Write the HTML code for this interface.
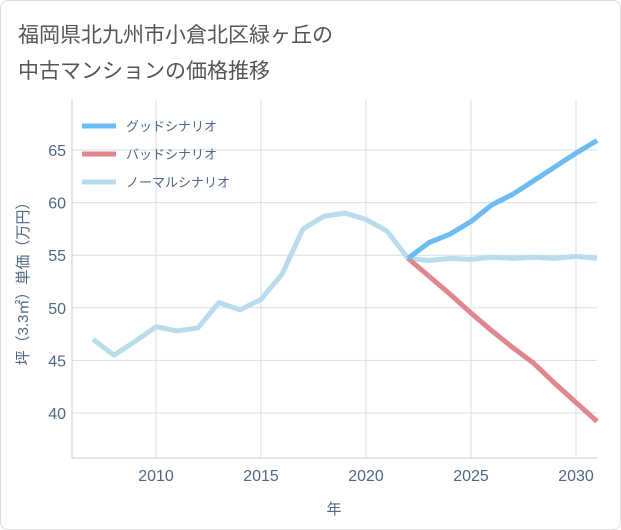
<!DOCTYPE html>
<html><head><meta charset="utf-8"><style>
body{margin:0;background:#fff;font-family:"Liberation Sans","Noto Sans CJK JP",sans-serif}
#wrap{position:relative;width:619px;height:528px;border:1px solid #ddd;border-radius:8px;overflow:hidden;background:#fff}
</style></head><body>
<div id="wrap">
<svg id="chart" width="621" height="530" style="position:absolute;left:-1px;top:-1px">
<text x="18" y="42" font-size="21" fill="#555" font-family="Liberation Sans,Noto Sans CJK JP,sans-serif">福岡県北九州市小倉北区緑ヶ丘の</text>
<text x="18" y="78" font-size="21" fill="#555" font-family="Liberation Sans,Noto Sans CJK JP,sans-serif">中古マンションの価格推移</text>
<g id="grid"></g><g id="series"></g><g id="axes"></g>
<text x="28" y="280" font-size="15" fill="#506784" transform="rotate(-90 28 280)" text-anchor="middle" font-family="Liberation Sans,Noto Sans CJK JP,sans-serif">坪（3.3㎡）単価（万円）</text>
<text x="334" y="514" font-size="15" fill="#506784" text-anchor="middle" font-family="Liberation Sans,Noto Sans CJK JP,sans-serif">年</text>
<g id="legend"></g>
</svg>
</div>
<script>
const years=[2007,2008,2009,2010,2011,2012,2013,2014,2015,2016,2017,2018,2019,2020,2021,2022,2023,2024,2025,2026,2027,2028,2029,2030,2031];
const normalVals=[47.0,45.5,46.8,48.2,47.8,48.1,50.5,49.8,50.8,53.2,57.5,58.7,59.0,58.4,57.3,54.7,54.5,54.7,54.6,54.8,54.7,54.8,54.7,54.9,54.7];
const futureYears=[2022,2023,2024,2025,2026,2027,2028,2029,2030,2031];
const goodVals=[54.7,56.2,57.0,58.2,59.8,60.8,62.1,63.4,64.7,65.9];
const badVals=[54.7,53.0,51.3,49.5,47.8,46.2,44.7,42.8,41.0,39.2];
const xTicks=[2010,2015,2020,2025,2030];
const yTicks=[40,45,50,55,60,65];
const seriesNames=["グッドシナリオ","バッドシナリオ","ノーマルシナリオ"];
const X0=72,X1=597,Y0=100,Y1=458;
const x=v=>156+(v-2010)*21;
const y=v=>150+(65-v)*10.52;
const NS="http://www.w3.org/2000/svg";
function mk(tag,attrs,parent){const e=document.createElementNS(NS,tag);for(const k in attrs)e.setAttribute(k,attrs[k]);parent.appendChild(e);return e;}
const grid=document.getElementById('grid'),ser=document.getElementById('series'),ax=document.getElementById('axes'),lg=document.getElementById('legend');
const bg=mk('rect',{x:X0,y:Y0,width:X1-X0,height:Y1-Y0,fill:'#fff'},grid);


xTicks.forEach(t=>{
 const l=mk('line',{x1:x(t),x2:x(t),y1:Y0,y2:Y1,stroke:'#d5dfe8','stroke-width':1},grid);
 
 
 const tx=mk('text',{x:x(t),y:481,'font-size':16,fill:'#506784','text-anchor':'middle'},ax);tx.textContent=t;
 
 
});
yTicks.forEach(t=>{
 const l=mk('line',{x1:X0,x2:X1,y1:y(t),y2:y(t),stroke:'#d5dfe8','stroke-width':1},grid);
 
 
 const tx=mk('text',{x:66,y:y(t)+6,'font-size':16,fill:'#506784','text-anchor':'end'},ax);tx.textContent=t;
 
 
});
const ax1=mk('line',{x1:X0,x2:X0,y1:Y0,y2:Y1,stroke:'#ccc'},ax);


const ax2=mk('line',{x1:X0,x2:X1,y1:Y1,y2:Y1,stroke:'#ccc'},ax);


function line(xs,vs,color,name){
 const p=mk('polyline',{points:xs.map((t,i)=>x(t)+','+y(vs[i])).join(' '),fill:'none',stroke:color,'stroke-width':5,'stroke-linejoin':'round'},ser);
 
 
}
line(years,normalVals,'#b8dcec','normal-scenario-line');
line(futureYears,badVals,'#e0868f','bad-scenario-line');
line(futureYears,goodVals,'#6bbcf0','good-scenario-line');
const cols=['#6bbcf0','#e0868f','#b8dcec'];
seriesNames.forEach((n,i)=>{
 const g=mk('g',{},lg);
 
 
 mk('line',{x1:82,x2:116,y1:126+i*28,y2:126+i*28,stroke:cols[i],'stroke-width':5},g);
 const t=mk('text',{x:126,y:131+i*28,'font-size':13,fill:'#506784','font-family':'Liberation Sans,Noto Sans CJK JP,sans-serif'},g);t.textContent=n;
});
</script>
</body></html>
